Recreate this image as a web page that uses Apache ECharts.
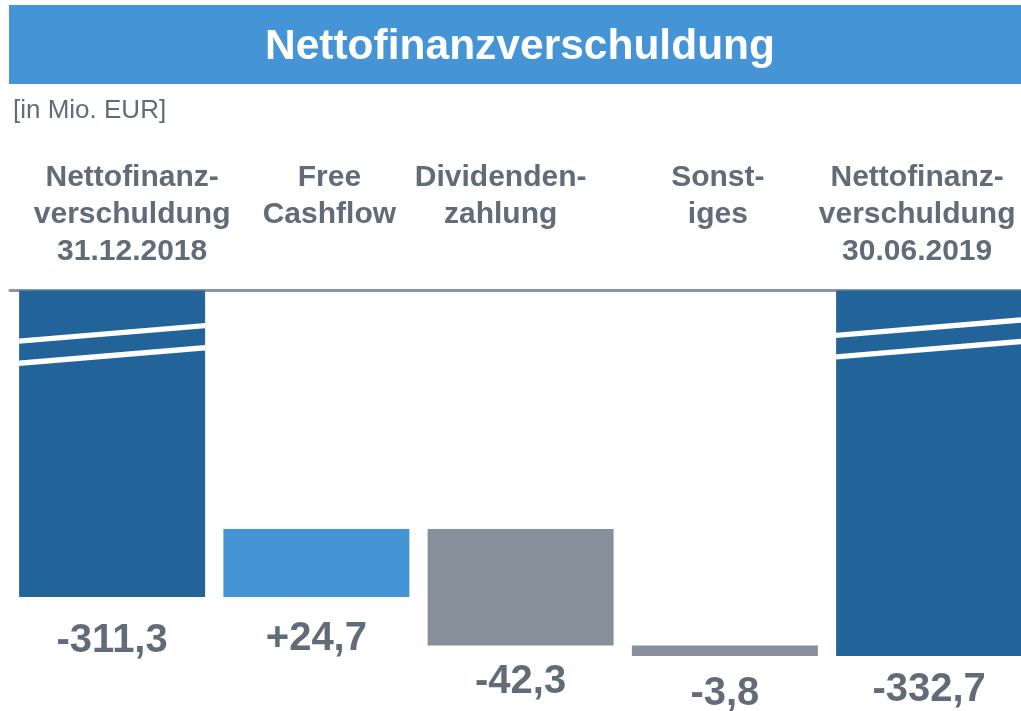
<!DOCTYPE html>
<html>
<head>
<meta charset="utf-8">
<script src="https://cdn.jsdelivr.net/npm/echarts@6/dist/echarts.min.js"></script>
<style>
  html, body { margin: 0; padding: 0; background: #fff; }
  #chart { width: 1021px; height: 711px; }
</style>
</head>
<body>
<div id="chart"></div>
<script>
// data (Mio. EUR)
const categories = [
  'Nettofinanz-\nverschuldung\n31.12.2018',
  'Free\nCashflow',
  'Dividenden-\nzahlung',
  'Sonst-\niges',
  'Nettofinanz-\nverschuldung\n30.06.2019'
]
const values = [-311.3, 24.7, -42.3, -3.8, -332.7]
const kinds = ['total', 'up', 'down', 'down', 'total']
// where the white "break" strokes cross the two total bars
const breakMarks = [[0, -215.6], [0, -223.6], [4, -213.5], [4, -221.3]]

const darkBlue = '#22639a'
const lightBlue = '#4595d6'
const grey = '#87909b'
const textGrey = '#626c79'
const barWidth = 186
const lineH = 37

// label placement tweaks (the slide isn't perfectly centred)
const labelNudge = [40, 26, -40, -14, -24]
const valueGap = [24, 22, 16, 18, 14]

// waterfall: invisible base + visible part
const baseData = []
const deltaData = []
let level = 0
values.forEach((v, i) => {
  if (kinds[i] === 'total') {
    baseData.push('-')
    deltaData.push({ value: v, itemStyle: { color: darkBlue }, label: { distance: valueGap[i] } })
    level = v
  } else {
    const top = Math.max(level, level + v)
    baseData.push(top)
    deltaData.push({
      value: -Math.abs(v),
      itemStyle: { color: v > 0 ? lightBlue : grey },
      label: { distance: valueGap[i] }
    })
    level = level + v
  }
})

const fmt = v => (v > 0 ? '+' : '') + v.toFixed(1).replace('.', ',')

const chart = echarts.init(document.getElementById('chart'), null, { renderer: 'canvas' })

chart.setOption({
  animation: false,
  graphic: [
    { type: 'rect', shape: { x: 9, y: 5, width: 1012, height: 79 }, style: { fill: lightBlue }, silent: true },
    {
      type: 'text', x: 520, y: 47,
      style: { text: 'Nettofinanzverschuldung', fill: '#fff', font: 'bold 42.5px "Liberation Sans", Arial, sans-serif', align: 'center', verticalAlign: 'middle' }
    },
    {
      type: 'text', x: 13, y: 111,
      style: { text: '[in Mio. EUR]', fill: textGrey, font: '26px "Liberation Sans", Arial, sans-serif', align: 'left', verticalAlign: 'middle' }
    }
  ],
  grid: { left: 10, right: -10.25, top: 290.4, height: 413.3, outerBoundsMode: 'none', containLabel: false },
  xAxis: {
    type: 'category',
    position: 'top',
    data: categories.map((c, i) => {
      const n = labelNudge[i]
      const extraLines = 3 - c.split('\n').length
      return {
        value: c,
        textStyle: { padding: [0, n < 0 ? -n : 0, extraLines * lineH, n > 0 ? n : 0] }
      }
    }),
    axisLine: { lineStyle: { color: '#8896a4', width: 3 } },
    axisTick: { show: false },
    axisLabel: {
      interval: 0,
      margin: 20,
      color: textGrey,
      fontFamily: '"Liberation Sans", Arial, sans-serif',
      fontWeight: 'bold',
      fontSize: 30,
      lineHeight: lineH,
      align: 'center',
      hideOverlap: false
    }
  },
  yAxis: {
    type: 'value',
    min: -350,
    max: -200,
    show: false,
    splitLine: { show: false }
  },
  series: [
    {
      type: 'bar',
      stack: 'wf',
      barWidth: barWidth,
      silent: true,
      itemStyle: { color: 'transparent' },
      data: baseData
    },
    {
      type: 'bar',
      stack: 'wf',
      barWidth: barWidth,
      data: deltaData,
      label: {
        show: true,
        position: 'bottom',
        color: textGrey,
        fontFamily: '"Liberation Sans", Arial, sans-serif',
        fontWeight: 'bold',
        fontSize: 40,
        formatter: p => fmt(values[p.dataIndex])
      }
    },
    {
      type: 'custom',
      z: 5,
      silent: true,
      data: breakMarks,
      renderItem: (params, api) => {
        const c = api.coord([api.value(0), api.value(1)])
        const w = barWidth / 2
        const rise = 7.75
        const t = 2.7
        return {
          type: 'polygon',
          shape: {
            points: [
              [c[0] - w, c[1] + rise - t],
              [c[0] + w, c[1] - rise - t],
              [c[0] + w, c[1] - rise + t],
              [c[0] - w, c[1] + rise + t]
            ]
          },
          style: { fill: '#fff' }
        }
      }
    }
  ]
})
</script>
</body>
</html>
